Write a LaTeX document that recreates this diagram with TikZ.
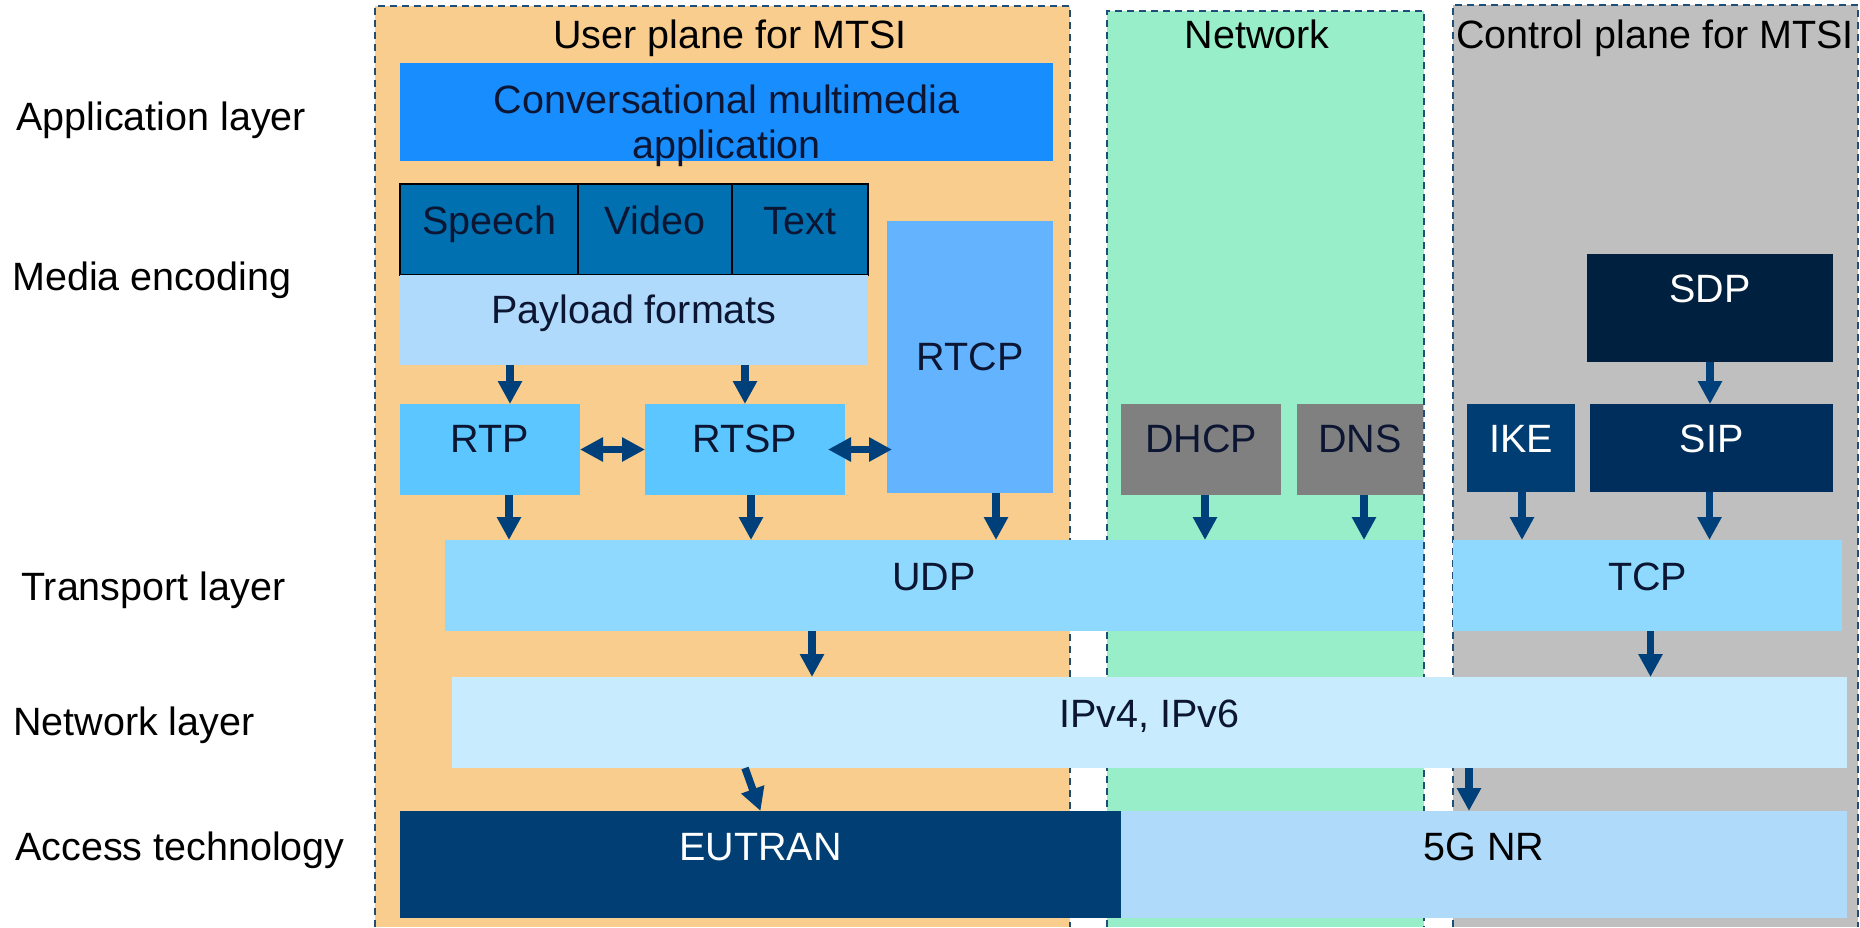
\documentclass[tikz,border=0pt]{standalone}
\usepackage{fontspec}
\setmainfont{Liberation Sans}
\usetikzlibrary{arrows.meta}
\definecolor{cUser}{HTML}{F9CD8D}
\definecolor{cNet}{HTML}{98EEC9}
\definecolor{cCtrl}{HTML}{BFBFBF}
\definecolor{cDash}{HTML}{1F4E79}
\definecolor{cApp}{HTML}{178DFE}
\definecolor{cMedia}{HTML}{0070B0}
\definecolor{cPay}{HTML}{B0DAFB}
\definecolor{cRTCP}{HTML}{63B3FF}
\definecolor{cRTP}{HTML}{5BC6FF}
\definecolor{cGray}{HTML}{808080}
\definecolor{cIKE}{HTML}{003D73}
\definecolor{cSIP}{HTML}{002E5C}
\definecolor{cSDP}{HTML}{00203F}
\definecolor{cUDP}{HTML}{8FD9FF}
\definecolor{cIP}{HTML}{C8EBFD}
\definecolor{cEU}{HTML}{003E74}
\definecolor{cNR}{HTML}{B0DAFA}
\definecolor{cArrow}{HTML}{00407A}
\definecolor{cText}{HTML}{0C1633}
\begin{document}
\begin{tikzpicture}[x=1pt,y=-1pt,
  font=\fontsize{39.5}{45}\selectfont,
  plane/.style={draw=cDash, line width=2pt, dash pattern=on 7pt off 5pt},
  box/.style={inner sep=0pt, outer sep=0pt, anchor=north west, text=cText},
  wbox/.style={box, text=white},
  cell/.style={box, draw=black, line width=2pt, fill=cMedia, text height=50pt, text depth=41pt},
  arr/.style={draw=cArrow, line width=7.5pt, -{Triangle[length=23pt,width=23pt]}},
  darr/.style={draw=cArrow, line width=7.5pt, {Triangle[length=23pt,width=23pt]}-{Triangle[length=23pt,width=23pt]}},
  lbl/.style={anchor=base west, inner sep=0pt, text=black},
  ttl/.style={anchor=base, inner sep=0pt, text=black}
]
\useasboundingbox (0,0) rectangle (1860,927);
\fill[white] (0,0) rectangle (1860,927);

% planes
\fill[cUser] (375,6) rectangle (1070,927);
\draw[plane] (375,927) -- (375,6) -- (1070,6) -- (1070,927);
\fill[cNet] (1107,11) rectangle (1424,927);
\draw[plane] (1107,927) -- (1107,11) -- (1424,11) -- (1424,927);
\fill[cCtrl] (1453,5) rectangle (1858,927);
\draw[plane] (1453,927) -- (1453,5) -- (1858,5) -- (1858,927);

% titles
\node[ttl] (tuser) at (730,48) {User plane for MTSI};
\node[ttl] (tnet) at (1257,48) {Network};
\node[ttl] (tctrl) at (1655,48) {Control plane for MTSI};

% layer labels
\node[lbl] (lapp) at (16,130) {Application layer};
\node[lbl] (lmed) at (12,290) {Media encoding};
\node[lbl] (ltra) at (21,600) {Transport layer};
\node[lbl] (lnet) at (13,735) {Network layer};
\node[lbl] (lacc) at (15,860) {Access technology};

% boxes
\node[box, fill=cApp, minimum width=653pt, minimum height=98pt] (app) at (400,63) {};
\node[align=center, inner sep=0pt, text=cText] (apptext) at (726.5,125.5) {Conversational multimedia\\application};

\node[cell, minimum width=178pt] (speech) at (400,184) {Speech};
\node[cell, minimum width=154pt] (video) at (578,184) {Video};
\node[cell, minimum width=136pt] (textc) at (732,184) {Text};
\node[box, fill=cPay, minimum width=468pt, text height=48pt, text depth=42pt] (payload) at (400,275) {Payload formats};

\node[box, fill=cRTCP, minimum width=166pt, text height=149.5pt, text depth=122.5pt] (rtcp) at (887,221) {RTCP};
\node[box, fill=cRTP, minimum width=180pt, text height=48pt, text depth=43pt] (rtp) at (400,404) {RTP};
\node[box, fill=cRTP, minimum width=200pt, text height=48pt, text depth=43pt] (rtsp) at (645,404) {RTSP};

\node[box, fill=cGray, minimum width=160pt, text height=48pt, text depth=43pt] (dhcp) at (1121,404) {DHCP};
\node[box, fill=cGray, minimum width=126pt, text height=48pt, text depth=43pt] (dns) at (1297,404) {DNS};

\node[wbox, fill=cSDP, minimum width=246pt, text height=48pt, text depth=60pt] (sdp) at (1587,254) {SDP};
\node[wbox, fill=cIKE, minimum width=108pt, text height=48pt, text depth=40pt] (ike) at (1467,404) {IKE};
\node[wbox, fill=cSIP, minimum width=243pt, text height=48pt, text depth=40pt] (sip) at (1590,404) {SIP};

\node[box, fill=cUDP, minimum width=978pt, text height=50pt, text depth=41pt] (udp) at (445,540) {UDP};
\node[box, fill=cUDP, minimum width=389pt, text height=50pt, text depth=41pt] (tcp) at (1453,540) {TCP};
\node[box, fill=cIP, minimum width=1395pt, text height=50pt, text depth=41pt] (ip) at (452,677) {IPv4, IPv6};
\node[wbox, fill=cEU, minimum width=721pt, text height=49pt, text depth=58pt] (eutran) at (400,811) {EUTRAN};
\node[box, fill=cNR, minimum width=726pt, text height=49pt, text depth=58pt, text=black] (nr) at (1121,811) {5G NR};

% arrows
\draw[arr] ([xshift=20pt]rtp.north |- payload.south) -- ([xshift=20pt]rtp.north);
\draw[arr] (rtsp.north |- payload.south) -- (rtsp.north);
\draw[darr] (rtp.east) -- (rtsp.west);
\draw[darr] ([xshift=-17pt]rtsp.east) -- ([xshift=5pt]rtcp.west |- rtsp.east);
\draw[arr] ([xshift=19pt]rtp.south) -- ([xshift=19pt]rtp.south |- udp.north);
\draw[arr] ([xshift=6pt]rtsp.south) -- ([xshift=6pt]rtsp.south |- udp.north);
\draw[arr] ([xshift=26pt]rtcp.south) -- ([xshift=26pt]rtcp.south |- udp.north);
\draw[arr] ([xshift=4pt]dhcp.south) -- ([xshift=4pt]dhcp.south |- udp.north);
\draw[arr] ([xshift=4pt]dns.south) -- ([xshift=4pt]dns.south |- udp.north);
\draw[arr] (sdp.south) -- (sdp.south |- sip.north);
\draw[arr] ([xshift=1pt]ike.south) -- ([xshift=1pt]ike.south |- tcp.north);
\draw[arr] ([xshift=-2pt]sip.south) -- ([xshift=-2pt]sip.south |- tcp.north);
\draw[arr] ([xshift=-122pt]udp.south) -- ([xshift=-122pt]udp.south |- ip.north);
\draw[arr] ([xshift=3pt]tcp.south) -- ([xshift=3pt]tcp.south |- ip.north);
\draw[arr] ([xshift=-404.5pt]ip.south) -- (eutran.north);
\draw[arr] ([xshift=-15pt]nr.north |- ip.south) -- ([xshift=-15pt]nr.north);
\end{tikzpicture}
\end{document}
